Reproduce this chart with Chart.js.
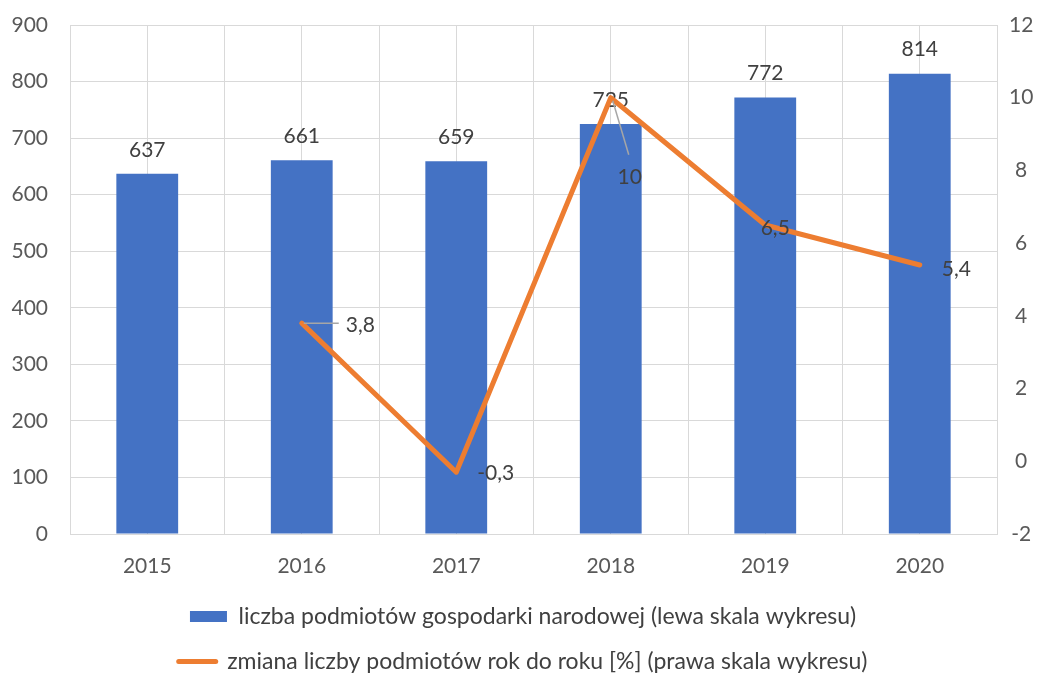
<!DOCTYPE html>
<html>
<head>
<meta charset="utf-8">
<script src="https://cdn.jsdelivr.net/npm/chart.js@4.4.1/dist/chart.umd.min.js"></script>
<style>
  body { margin: 0; background: #fff; }
  #wrap { width: 1046px; height: 673px; }
</style>
</head>
<body>
<div id="wrap"><canvas id="chart"></canvas></div>
<script>
// data
const years = ['2015', '2016', '2017', '2018', '2019', '2020'];
const podmioty = [637, 661, 659, 725, 772, 814];          // left scale
const zmiana = [null, 3.8, -0.3, 10, 6.5, 5.4];            // right scale, %
const leftScale = { min: 0, max: 900, step: 100 };
const rightScale = { min: -2, max: 12, step: 2 };

const barLabel = 'liczba podmiotów gospodarki narodowej (lewa skala wykresu)';
const lineLabel = 'zmiana liczby podmiotów rok do roku [%] (prawa skala wykresu)';

const blue = '#4472C4';
const orange = '#ED7D31';
const gridCol = '#d9d9d9';
const textCol = '#404040';
const tickCol = '#595959';
const FONT = 'Lato, "Open Sans", sans-serif';

// where the line's value labels sit relative to their point
const lineLabelPos = [
    null,
    { dx: 44, dy: 2, align: 'left', leader: [2, 0, 37, 0] },
    { dx: 21, dy: 1, align: 'left' },
    { dx: 19, dy: 80, align: 'center', leader: [2, 3, 18, 57] },
    { dx: 10, dy: 3, align: 'center' },
    { dx: 22, dy: 4, align: 'left' }
];

const fmt = v => String(v).replace('.', ',');

const valueLabels = {
    id: 'valueLabels',
    afterDatasetDraw(chart, args) {
        const ctx = chart.ctx;
        ctx.save();
        ctx.font = '21px ' + FONT;
        ctx.fillStyle = textCol;
        ctx.textBaseline = 'middle';
        if (args.index === 0) {
            ctx.textAlign = 'center';
            args.meta.data.forEach((bar, i) => {
                ctx.fillText(fmt(podmioty[i]), bar.x, bar.y - 24);
            });
        } else {
            args.meta.data.forEach((pt, i) => {
                const v = zmiana[i];
                if (v === null) return;
                const p = lineLabelPos[i];
                if (p.leader) {
                    ctx.strokeStyle = '#a6a6a6';
                    ctx.lineWidth = 1.5;
                    ctx.beginPath();
                    ctx.moveTo(pt.x + p.leader[0], pt.y + p.leader[1]);
                    ctx.lineTo(pt.x + p.leader[2], pt.y + p.leader[3]);
                    ctx.stroke();
                }
                ctx.textAlign = p.align;
                ctx.fillText(fmt(v), pt.x + p.dx, pt.y + p.dy);
            });
        }
        ctx.restore();
    }
};

// stop the tick padding from pushing the plot area down
const noOverhang = w => s => {
    s.width = w;
    s.paddingTop = 0;
    s.paddingBottom = 0;
};

new Chart(document.getElementById('chart'), {
    type: 'bar',
    data: {
        labels: years,
        datasets: [{
            type: 'bar',
            label: barLabel,
            data: podmioty,
            backgroundColor: blue,
            yAxisID: 'y',
            order: 1,
            barPercentage: 0.4,
            categoryPercentage: 1
        }, {
            type: 'line',
            label: lineLabel,
            data: zmiana,
            borderColor: orange,
            backgroundColor: orange,
            borderWidth: 5,
            borderCapStyle: 'round',
            borderJoinStyle: 'round',
            pointRadius: 0,
            tension: 0,
            yAxisID: 'y1',
            order: 0
        }]
    },
    options: {
        responsive: true,
        maintainAspectRatio: false,
        animation: false,
        layout: { padding: { top: 25, left: 0, right: 0, bottom: -10 } },
        plugins: {
            tooltip: { enabled: false },
            legend: {
                position: 'bottom',
                labels: {
                    usePointStyle: true,
                    pointStyleWidth: 37,
                    boxHeight: 11,
                    padding: 22,
                    color: textCol,
                    font: { family: FONT, size: 23 },
                    sort: (a, b) => a.datasetIndex - b.datasetIndex,
                    generateLabels(chart) {
                        const items = Chart.defaults.plugins.legend.labels.generateLabels(chart);
                        items.forEach(it => {
                            if (it.datasetIndex === 0) {
                                it.pointStyle = 'rect';
                                it.lineWidth = 0;
                                it.fillStyle = blue;
                            } else {
                                it.pointStyle = 'line';
                                it.lineWidth = 5;
                                it.strokeStyle = orange;
                                it.lineCap = 'round';
                            }
                        });
                        return items;
                    }
                }
            }
        },
        scales: {
            x: {
                grid: { color: gridCol, drawTicks: false, offset: true },
                border: { color: gridCol },
                ticks: { color: tickCol, font: { family: FONT, size: 21 }, padding: 20 },
                afterFit: s => { s.height = 49; }
            },
            xc: {
                // extra gridlines through the category centres
                type: 'category',
                position: 'top',
                grid: { color: gridCol, drawTicks: false, offset: false },
                border: { display: false },
                ticks: { display: false },
                afterFit: s => { s.height = 0; }
            },
            y: {
                position: 'left',
                min: leftScale.min,
                max: leftScale.max,
                ticks: { stepSize: leftScale.step, color: tickCol, font: { family: FONT, size: 21 }, padding: 22 },
                grid: { color: gridCol, drawTicks: false },
                border: { color: gridCol },
                afterFit: noOverhang(70)
            },
            y1: {
                position: 'right',
                min: rightScale.min,
                max: rightScale.max,
                ticks: { stepSize: rightScale.step, color: tickCol, font: { family: FONT, size: 21 }, padding: 12, crossAlign: 'center' },
                grid: { display: false, drawTicks: false },
                border: { display: false },
                afterFit: noOverhang(49)
            }
        }
    },
    plugins: [valueLabels]
});
</script>
</body>
</html>
